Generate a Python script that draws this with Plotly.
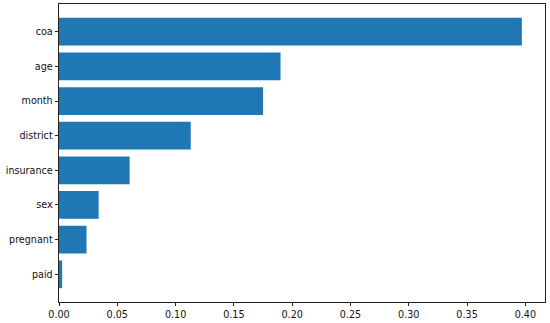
import plotly.graph_objects as go

features = ["paid", "pregnant", "sex", "insurance", "district", "month", "age", "coa"]
importance = [0.0027, 0.0236, 0.034, 0.0606, 0.113, 0.175, 0.190, 0.397]
x_ticks = [0.00, 0.05, 0.10, 0.15, 0.20, 0.25, 0.30, 0.35, 0.40]
x_tick_labels = ["0.00", "0.05", "0.10", "0.15", "0.20", "0.25", "0.30", "0.35", "0.40"]

fig = go.Figure(go.Bar(
    y=features, x=importance, orientation="h",
    marker=dict(color="#1f77b4", line=dict(width=0)),
    width=0.8,
))

font = dict(family="DejaVu Sans", size=9.6, color="#111")
fig.update_layout(
    width=550, height=323,
    margin=dict(l=59, r=5, t=4, b=21, autoexpand=False),
    paper_bgcolor="white", plot_bgcolor="white",
    showlegend=False,
    bargap=0.2,
    font=font,
)
fig.update_xaxes(
    range=[0, max(importance) * 1.05],
    tickvals=x_ticks, ticktext=x_tick_labels,
    ticks="outside", ticklen=3.5, tickwidth=0.8, tickcolor="#222",
    showline=True, linecolor="#222", linewidth=0.8, mirror=True,
    showgrid=False, zeroline=False, tickfont=font, automargin=False,
)
fig.update_yaxes(
    range=[-0.6 - 0.2, len(features) - 0.4 + 0.2],
    ticks="outside", ticklen=3.5, tickwidth=0.8, tickcolor="#222",
    showline=True, linecolor="#222", linewidth=0.8, mirror=True,
    showgrid=False, zeroline=False, tickfont=font, automargin=False,
)

fig.write_html("out.html", config={"displayModeBar": False},
               post_script="document.body.style.margin='0';")
